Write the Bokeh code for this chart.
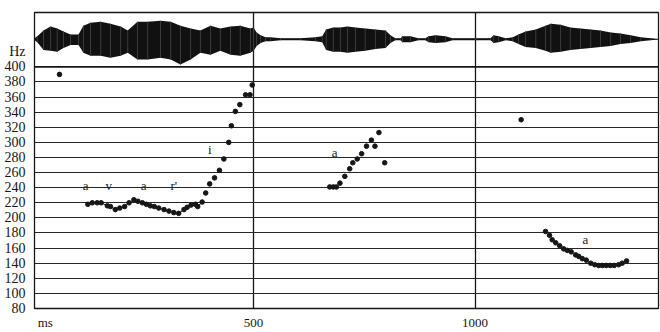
from bokeh.plotting import figure
from bokeh.models import FixedTicker, Range1d, Span
from bokeh.core.properties import value
from bokeh.embed import file_html
from bokeh.resources import INLINE

# ---- data ----
hz_ticks = [80, 100, 120, 140, 160, 180, 200, 220, 240, 260, 280, 300, 320, 340, 360, 380, 400]
ms_ticks = [500, 1000]

iso_ms = [62, 1104]
iso_hz = [390, 330]

seg1_ms = [126, 136, 147, 156, 170, 177, 188, 198, 209, 219, 230, 239, 249, 258, 267, 276, 286,
           298, 309, 320, 331, 343, 350, 359, 369, 374, 384, 392, 401, 412, 423, 433, 444, 450,
           459, 469, 482, 492, 497]
seg1_hz = [218, 220, 220, 220, 216, 215, 211, 213, 215, 220, 224, 222, 220, 218, 216, 215, 213,
           211, 209, 207, 206, 211, 214, 217, 218, 215, 221, 233, 245, 253, 263, 278, 300, 322,
           341, 350, 363, 363, 376]
seg1_linked = 27  # points joined by the thin trace

seg2_ms = [672, 680, 687, 695, 706, 717, 724, 734, 744, 755, 766, 774, 783, 796]
seg2_hz = [241, 241, 241, 246, 255, 265, 273, 278, 285, 295, 303, 295, 313, 273]

seg3_ms = [1159, 1168, 1174, 1182, 1191, 1200, 1208, 1217, 1227, 1234, 1242, 1251, 1261, 1270,
           1279, 1287, 1296, 1305, 1314, 1324, 1332, 1342]
seg3_hz = [182, 177, 171, 167, 163, 159, 157, 155, 151, 149, 146, 144, 140, 138, 137, 137, 137,
           137, 137, 138, 140, 143]

label_ms = [121, 173, 252, 320, 401, 683, 1249]
label_hz = [243, 243, 243, 243, 290, 287, 172]
label_txt = ["a", "v", "a", "r'", "i", "a", "a"]

# waveform envelope (relative amplitude above / below the zero line) along time
wave_ms = [3, 12, 26, 42, 57, 71, 87, 105, 116, 132, 155, 177, 200, 216, 238, 261, 290, 313,
           335, 358, 380, 403, 425, 448, 470, 493, 500,
           507, 516, 527, 538, 561, 606, 640, 655, 664, 680, 696, 712, 730, 752, 775, 798, 809,
           820, 832, 836, 854, 872, 888, 895, 911, 933, 949, 1001, 1035, 1042, 1053, 1069, 1085,
           1098, 1114, 1137, 1159, 1171, 1193, 1215, 1238, 1261, 1283, 1306, 1328, 1351, 1374,
           1396, 1414]
wave_up = [0, 3, 9, 13, 11, 8, 5, 5, 14, 17, 18, 16, 13, 9, 18, 18, 19, 18,
           14, 11, 9, 14, 11, 13, 14, 11, 12,
           7, 4, 2, 2, 1, 1, 2, 3, 10, 12, 12, 13, 12, 11, 10, 9, 4,
           1, 1, 3, 3, 1, 1, 3, 4, 3, 1, 1, 1, 4, 3, 1, 2,
           5, 8, 10, 14, 16, 15, 12, 11, 10, 9, 7, 6, 4, 2,
           1, 0]
wave_lo = [0, 3, 11, 12, 13, 9, 6, 6, 14, 17, 17, 19, 17, 14, 21, 21, 19, 21,
           26, 21, 14, 16, 12, 16, 17, 14, 12,
           7, 4, 2, 2, 1, 1, 2, 3, 11, 13, 13, 14, 13, 12, 10, 9, 4,
           1, 1, 3, 3, 1, 1, 3, 4, 3, 1, 1, 1, 4, 3, 1, 2,
           5, 8, 9, 12, 14, 13, 11, 10, 9, 8, 7, 5, 4, 2,
           1, 0]

# ---- styling / layout ----
SERIF = "Liberation Serif"
INK = "#161616"
WAVE_CENTER = 436.6
WAVE_SCALE = 1.285

p = figure(width=660, height=332, x_range=Range1d(5.6, 1414), y_range=Range1d(80, 472),
           output_backend="svg", toolbar_location=None,
           min_border_left=34, min_border_right=2, min_border_top=12, min_border_bottom=14)
p.background_fill_color = "white"
p.border_fill_color = "white"
p.outline_line_color = INK
p.outline_line_width = 1.3

# axes
p.xaxis.ticker = FixedTicker(ticks=[30] + ms_ticks)
p.xaxis.major_label_overrides = {30: "ms"}
p.yaxis.ticker = FixedTicker(ticks=hz_ticks + [421])
p.yaxis.major_label_overrides = {421: "Hz"}
for ax in (p.xaxis, p.yaxis):
    ax.major_label_text_font = SERIF
    ax.major_label_text_font_size = "14px"
    ax.major_label_text_color = INK
    ax.major_tick_line_color = None
    ax.minor_tick_line_color = None
    ax.axis_line_color = None
    ax.major_label_standoff = 3
p.xaxis.major_label_standoff = 0
p.xaxis.major_label_text_font_size = "13px"

# grids
p.ygrid.ticker = FixedTicker(ticks=hz_ticks)
p.ygrid.grid_line_color = "#262626"
p.ygrid.grid_line_width = 1.1
p.xgrid.ticker = FixedTicker(ticks=ms_ticks)
p.xgrid.grid_line_color = INK
p.xgrid.grid_line_width = 1.3
p.add_layout(Span(location=400, dimension="width", line_color=INK, line_width=1.8))

# waveform
upper = [WAVE_CENTER + a * WAVE_SCALE for a in wave_up]
lower = [WAVE_CENTER - a * WAVE_SCALE for a in wave_lo]
p.line(x=[wave_ms[0], wave_ms[-1]], y=[WAVE_CENTER, WAVE_CENTER], line_color="#222", line_width=1)
p.varea(x=wave_ms, y1=lower, y2=upper, fill_color="#111111")
p.segment(x0=wave_ms, y0=lower, x1=wave_ms, y1=upper, line_color="#3c3c3c", line_width=1)

# pitch trace
p.line(seg1_ms[:seg1_linked], seg1_hz[:seg1_linked], line_color=INK, line_width=1)
for xs, ys in ((seg1_ms, seg1_hz), (seg2_ms, seg2_hz), (seg3_ms, seg3_hz), (iso_ms, iso_hz)):
    p.scatter(xs, ys, size=4.6, color=INK)

p.text(x=label_ms, y=label_hz, text=label_txt, text_font=value(SERIF), text_font_size="13px",
       text_align="center", text_baseline="middle", text_color="#222")

open("out.html", "w").write(file_html(p, INLINE))
